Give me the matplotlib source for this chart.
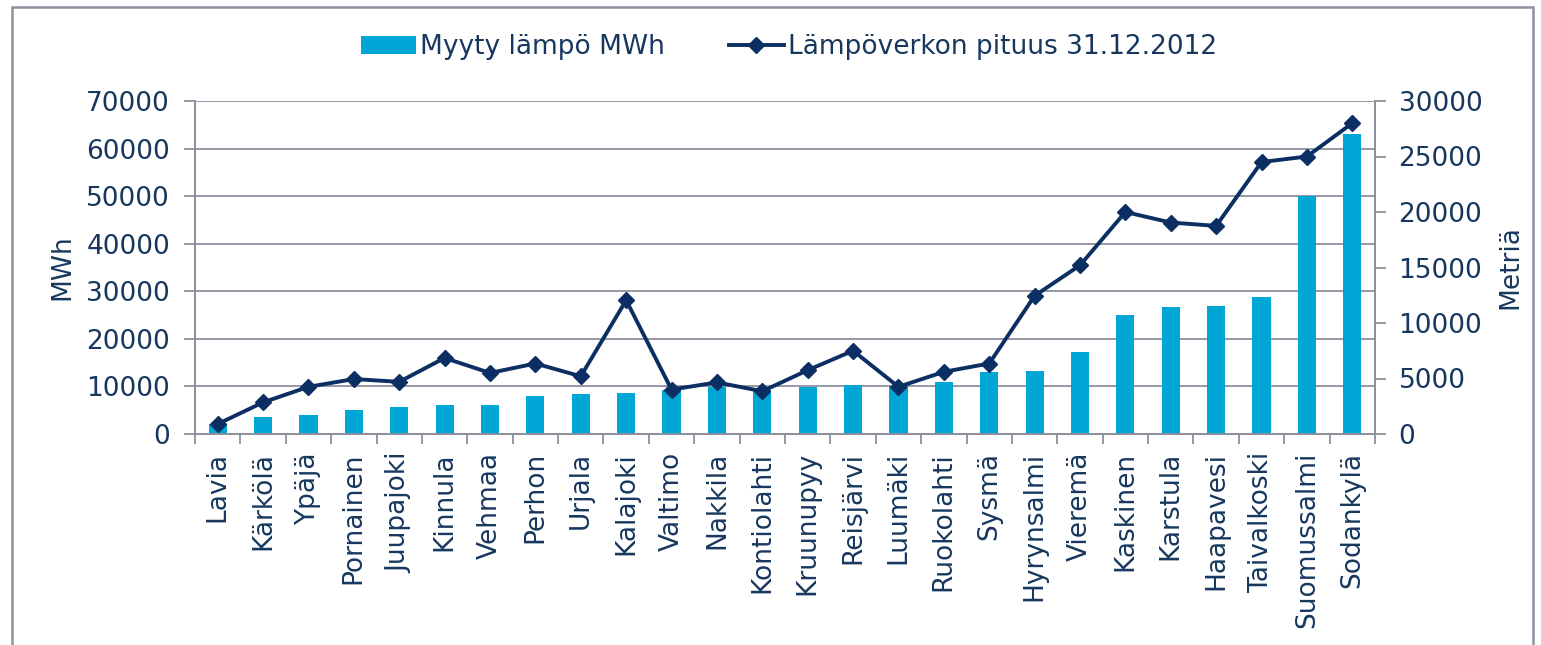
import matplotlib
matplotlib.use("Agg")
import matplotlib.pyplot as plt
from matplotlib.patches import Rectangle, Patch
from matplotlib.lines import Line2D
import numpy as np

categories = ["Lavia", "Kärkölä", "Ypäjä", "Pornainen", "Juupajoki", "Kinnula", "Vehmaa",
              "Perhon", "Urjala", "Kalajoki", "Valtimo", "Nakkila", "Kontiolahti", "Kruunupyy",
              "Reisjärvi", "Luumäki", "Ruokolahti", "Sysmä", "Hyrynsalmi", "Vieremä", "Kaskinen",
              "Karstula", "Haapavesi", "Taivalkoski", "Suomussalmi", "Sodankylä"]
heat_mwh = [2200, 3600, 4000, 5000, 5700, 6100, 6100, 8000, 8450, 8600, 9250, 9800, 9300, 9950,
            10200, 10000, 11000, 13000, 13150, 17200, 25000, 26700, 27000, 28700, 50000, 63000]
network_m = [900, 2850, 4250, 4950, 4700, 6850, 5500, 6350, 5200, 12050, 4000, 4650, 3850, 5750,
             7500, 4250, 5600, 6350, 12450, 15200, 20000, 19050, 18750, 24500, 25000, 28000]
legend_labels = ["Myyty lämpö MWh", "Lämpöverkon pituus 31.12.2012"]
left_ticks = [0, 10000, 20000, 30000, 40000, 50000, 60000, 70000]
right_ticks = [0, 5000, 10000, 15000, 20000, 25000, 30000]

BAR = "#00A6D6"
LINE = "#0B2F62"
TXT = "#17375E"
GRID = "#8E909E"
FS = 19

fig = plt.figure(figsize=(15.41, 6.45), dpi=100)
W, H = 1541, 645
ax = fig.add_axes([195 / W, 1 - 434 / H, (1375 - 195) / W, (434 - 101) / H])
ax2 = ax.twinx()

x = np.arange(len(categories))
ax.bar(x, heat_mwh, width=0.40, color=BAR, zorder=2)
ax2.plot(x, network_m, color=LINE, lw=2.8, marker="D", markersize=8.5, zorder=3)

ax.set_xlim(-0.5, len(categories) - 0.5)
ax.set_ylim(0, 70000)
ax2.set_ylim(0, 30000)
ax.set_yticks(left_ticks)
ax2.set_yticks(right_ticks)
ax.set_yticklabels([str(v) for v in left_ticks])
ax2.set_yticklabels([str(v) for v in right_ticks])
ax.yaxis.grid(True, color=GRID, lw=1.3)
ax.set_axisbelow(True)

ax.set_xticks(x)
ax.set_xticklabels(categories, rotation=90, fontsize=FS, color=TXT)
ax.set_xticks(np.arange(len(categories) + 1) - 0.5, minor=True)
ax.tick_params(axis="x", which="major", length=0, pad=13)
ax.tick_params(axis="x", which="minor", length=7, width=1.3, color=GRID, direction="out")

ax.tick_params(axis="y", labelsize=FS, labelcolor=TXT, length=8, width=1.3, color=GRID, pad=10)
ax2.tick_params(axis="y", labelsize=FS, labelcolor=TXT, length=8, width=1.3, color=GRID, pad=9)

for a in (ax, ax2):
    a.spines["top"].set_visible(False)
    for s in ("left", "right", "bottom"):
        a.spines[s].set_color(GRID)
        a.spines[s].set_linewidth(1.3)

ax.set_ylabel("MWh", fontsize=FS, color=TXT, labelpad=8)
ax2.set_ylabel("Metriä", fontsize=FS, color=TXT, labelpad=11)

handles = [Patch(facecolor=BAR, edgecolor="none"),
           Line2D([0], [0], color=LINE, lw=2.8, marker="D", markersize=8.5)]
leg = fig.legend(handles, legend_labels, loc="center", bbox_to_anchor=(789 / W, 1 - 47 / H),
                 ncol=2, frameon=False, fontsize=19, handlelength=2.1, handletextpad=0.15,
                 columnspacing=2.4)
for t in leg.get_texts():
    t.set_color(TXT)

frame = Rectangle((12 / W, -0.05), (1533 - 12) / W, 1.05 - 7 / H, transform=fig.transFigure,
                  fill=False, edgecolor="#8E909E", lw=1.8)
fig.patches.append(frame)

fig.savefig("out.png", dpi=100)
